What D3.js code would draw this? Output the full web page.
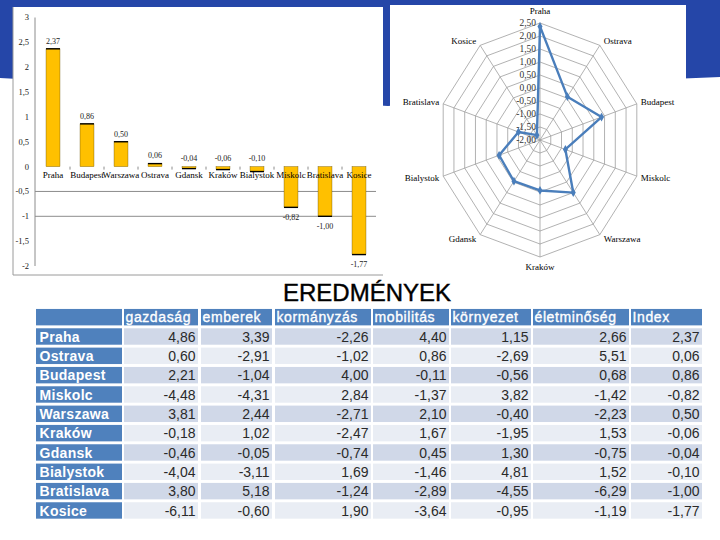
<!DOCTYPE html>
<html><head><meta charset="utf-8">
<script src="https://cdn.jsdelivr.net/npm/d3@7/dist/d3.min.js"></script>
<style>html,body{margin:0;padding:0;background:#fff;}svg{display:block;}</style>
</head><body>
<svg id="c" width="720" height="540"></svg>
<script>
// ---------------- DATA ----------------
const cities = ["Praha","Ostrava","Budapest","Miskolc","Warszawa","Kraków","Gdansk","Bialystok","Bratislava","Kosice"];
const columns = ["gazdaság","emberek","kormányzás","mobilitás","környezet","életminőség","Index"];
const gazdasag    = [4.86, 0.60, 2.21, -4.48, 3.81, -0.18, -0.46, -4.04, 3.80, -6.11];
const emberek     = [3.39, -2.91, -1.04, -4.31, 2.44, 1.02, -0.05, -3.11, 5.18, -0.60];
const kormanyzas  = [-2.26, -1.02, 4.00, 2.84, -2.71, -2.47, -0.74, 1.69, -1.24, 1.90];
const mobilitas   = [4.40, 0.86, -0.11, -1.37, 2.10, 1.67, 0.45, -1.46, -2.89, -3.64];
const kornyezet   = [1.15, -2.69, -0.56, 3.82, -0.40, -1.95, 1.30, 4.81, -4.55, -0.95];
const eletminoseg = [2.66, 5.51, 0.68, -1.42, -2.23, 1.53, -0.75, 1.52, -6.29, -1.19];
const indexValues = [2.37, 0.06, 0.86, -0.82, 0.50, -0.06, -0.04, -0.10, -1.00, -1.77];
const barTicks = [3, 2.5, 2, 1.5, 1, 0.5, 0, -0.5, -1, -1.5, -2];
const barGridValues = [-0.5, -1];
const radarTicks = [2.5, 2, 1.5, 1, 0.5, 0, -0.5, -1, -1.5, -2];
const title = "EREDMÉNYEK";

// ---------------- HELPERS ----------------
const loc = d3.formatLocale({decimal: ",", thousands: " ", grouping: [3], currency: ["", ""], minus: "-"});
const f2 = loc.format(".2f");
const f1 = loc.format(".1~f");
const svg = d3.select("#c");
const serif = "'Liberation Serif','Times New Roman',serif";
const sans = "'Liberation Sans',Arial,sans-serif";

// ---------------- SLIDE BACKGROUND ----------------
svg.append("rect").attr("width", 720).attr("height", 540).attr("fill", "#fff");
svg.append("path")
  .attr("d", "M0,0 L720,0 L720,77 C620,80 480,98 388,106 C260,98 110,84 0,78 Z")
  .attr("fill", "#2546A8");

// ---------------- BAR CHART ----------------
const bx0 = 13, by0 = 7, bx1 = 383, by1 = 275;
svg.append("rect").attr("x", bx0).attr("y", by0).attr("width", bx1 - bx0).attr("height", by1 - by0).attr("fill", "#fff");
svg.append("path").attr("d", `M${bx0},${by0} V${by1} H${bx1}`).attr("fill", "none").attr("stroke", "#9a9a9a").attr("stroke-width", 1);

const barOrder = d3.range(cities.length).sort((a, b) => indexValues[b] - indexValues[a]);
const barCats = barOrder.map(i => cities[i]);
const barVals = barOrder.map(i => indexValues[i]);

const xb = d3.scaleBand().domain(barCats).range([36, 376]).paddingInner(0.59).paddingOuter(0.295);
const yb = d3.scaleLinear().domain([-2, 3]).range([266, 17.5]);

const gb = svg.append("g");
gb.selectAll("line.grid").data(barGridValues).join("line")
  .attr("x1", 35).attr("x2", 376).attr("y1", d => yb(d)).attr("y2", d => yb(d))
  .attr("stroke", "#8c8c8c").attr("stroke-width", 1);
gb.append("line").attr("x1", 35).attr("x2", 35).attr("y1", yb(3)).attr("y2", yb(-2))
  .attr("stroke", "#8c8c8c").attr("stroke-width", 1);
gb.selectAll("text.yt").data(barTicks).join("text")
  .attr("x", 29).attr("y", d => yb(d)).attr("dy", "0.35em")
  .attr("text-anchor", "end").attr("font-family", serif).attr("font-size", 8.5).attr("fill", "#222")
  .text(d => f1(d));
const bounds = barCats.slice(1).map(c => xb(c) - xb.step() * xb.paddingInner() / 2);
gb.selectAll("line.xt").data(bounds).join("line")
  .attr("x1", d => d).attr("x2", d => d).attr("y1", yb(0)).attr("y2", yb(0) + 3)
  .attr("stroke", "#8c8c8c").attr("stroke-width", 1);
gb.selectAll("rect.bar").data(barVals).join("rect")
  .attr("x", (d, i) => xb(barCats[i]))
  .attr("width", xb.bandwidth())
  .attr("y", d => yb(Math.max(0, d)))
  .attr("height", d => Math.max(1, Math.abs(yb(d) - yb(0))))
  .attr("fill", "#FFC000")
  .attr("stroke", "#6b5200").attr("stroke-width", 0.4);
gb.selectAll("line.end").data(barVals).join("line")
  .attr("x1", (d, i) => xb(barCats[i])).attr("x2", (d, i) => xb(barCats[i]) + xb.bandwidth())
  .attr("y1", d => yb(d)).attr("y2", d => yb(d))
  .attr("stroke", "#000").attr("stroke-width", 1.4);
gb.selectAll("text.cat").data(barCats).join("text")
  .attr("x", d => xb(d) + xb.bandwidth() / 2).attr("y", yb(0) + 11.5)
  .attr("text-anchor", "middle").attr("font-family", serif).attr("font-size", 9).attr("fill", "#000")
  .text(d => d);
gb.selectAll("text.val").data(barVals).join("text")
  .attr("x", (d, i) => xb(barCats[i]) + xb.bandwidth() / 2)
  .attr("y", d => d > -0.5 ? Math.min(yb(Math.max(d, 0)), yb(0)) - 8 : yb(d) + 10)
  .attr("dy", "0.35em")
  .attr("text-anchor", "middle").attr("font-family", serif).attr("font-size", 8).attr("fill", "#222")
  .text(d => f2(d));

// ---------------- RADAR CHART ----------------
svg.append("rect").attr("x", 390).attr("y", 5).attr("width", 296).attr("height", 270).attr("fill", "#fff");
const cx = 540, cy = 140, kx = 0.87;
const rr = d3.scaleLinear().domain([-2, 2.5]).range([0, 117]);
const ang = d3.scaleLinear().domain([0, cities.length]).range([0, 2 * Math.PI]);
const pt = (i, v) => [cx + kx * rr(v) * Math.sin(ang(i)), cy - rr(v) * Math.cos(ang(i))];
const gr = svg.append("g");
const ringLine = d3.line().curve(d3.curveLinearClosed);
gr.selectAll("path.ring").data(radarTicks.filter(t => t > -2)).join("path")
  .attr("d", t => ringLine(cities.map((c, i) => pt(i, t))))
  .attr("fill", "none").attr("stroke", "#9e9e9e").attr("stroke-width", 0.8);
gr.selectAll("line.spoke").data(cities).join("line")
  .attr("x1", cx).attr("y1", cy)
  .attr("x2", (c, i) => pt(i, 2.5)[0]).attr("y2", (c, i) => pt(i, 2.5)[1])
  .attr("stroke", "#9e9e9e").attr("stroke-width", 0.8);
gr.selectAll("text.rt").data(radarTicks).join("text")
  .attr("x", cx - 4).attr("y", t => cy - rr(t)).attr("dy", "0.35em")
  .attr("text-anchor", "end").attr("font-family", serif).attr("font-size", 9.5).attr("fill", "#333")
  .text(t => f2(t));
gr.selectAll("text.city").data(cities).join("text")
  .each(function(c, i) {
    const a = ang(i), s = Math.sin(a), co = Math.cos(a);
    const [vx, vy] = pt(i, 2.5);
    let x = vx, y = vy, anchor = "middle";
    if (s > 0.1) { anchor = "start"; x += 4; y -= co * 5; }
    else if (s < -0.1) { anchor = "end"; x -= 4; y -= co * 5; }
    else { y += co > 0 ? -12 : 10; }
    d3.select(this).attr("x", x).attr("y", y).attr("dy", "0.35em").attr("text-anchor", anchor);
  })
  .attr("font-family", serif).attr("font-size", 9).attr("fill", "#000")
  .text(c => c);
gr.append("path")
  .attr("d", ringLine(indexValues.map((v, i) => pt(i, v))))
  .attr("fill", "none").attr("stroke", "#4A7EBB").attr("stroke-width", 2.4).attr("stroke-linejoin", "round");
gr.selectAll("path.mk").data(indexValues).join("path")
  .attr("transform", (v, i) => `translate(${pt(i, v)[0]},${pt(i, v)[1]})`)
  .attr("d", d3.symbol().type(d3.symbolDiamond).size(22))
  .attr("fill", "#4A7EBB");

// ---------------- TITLE ----------------
svg.append("text").attr("x", 367).attr("y", 301).attr("text-anchor", "middle")
  .attr("font-family", sans).attr("font-size", 24).attr("fill", "#000")
  .attr("stroke", "#000").attr("stroke-width", 0.4).text(title);

// ---------------- TABLE ----------------
const colEdges = [[36,122],[124,198],[201,272],[275,371],[373,449],[451,531],[533,629],[631,702]];
const colData = [gazdasag, emberek, kormanyzas, mobilitas, kornyezet, eletminoseg, indexValues];
const rowsY = d3.scaleBand().domain(["__head", ...cities]).range([307.5, 307.5 + 11 * 19.33]).paddingInner(0.15).paddingOuter(0.075);
const bandFill = ["#D0D8E8", "#E9EDF4"];
const gt = svg.append("g");
const headCells = ["", ...columns];
gt.selectAll("rect.h").data(headCells).join("rect")
  .attr("x", (d, j) => colEdges[j][0]).attr("width", (d, j) => colEdges[j][1] - colEdges[j][0])
  .attr("y", rowsY("__head")).attr("height", rowsY.bandwidth()).attr("fill", "#4F81BD");
gt.selectAll("text.h").data(headCells).join("text")
  .attr("x", (d, j) => colEdges[j][0] + 1.5).attr("y", rowsY("__head") + rowsY.bandwidth() / 2 + 5.3)
  .attr("font-family", sans).attr("font-size", 14).attr("letter-spacing", 0.6).attr("fill", "#fff")
  .attr("stroke", "#fff").attr("stroke-width", 0.35)
  .text(d => d);
cities.forEach((c, i) => {
  const y0 = rowsY(c), h = rowsY.bandwidth();
  gt.append("rect").attr("x", colEdges[0][0]).attr("width", colEdges[0][1] - colEdges[0][0])
    .attr("y", y0).attr("height", h).attr("fill", "#4F81BD");
  gt.append("text").attr("x", colEdges[0][0] + 3.5).attr("y", y0 + h / 2 + 5.2)
    .attr("font-family", sans).attr("font-size", 14).attr("font-weight", "bold").attr("letter-spacing", 0.3)
    .attr("fill", "#fff").text(c);
  colData.forEach((arr, j) => {
    const e = colEdges[j + 1];
    gt.append("rect").attr("x", e[0]).attr("width", e[1] - e[0]).attr("y", y0).attr("height", h)
      .attr("fill", bandFill[i % 2]);
    gt.append("text").attr("x", e[1] - 2.5).attr("y", y0 + h / 2 + 5.2).attr("text-anchor", "end")
      .attr("font-family", sans).attr("font-size", 14).attr("fill", "#2a2a2a").text(f2(arr[i]));
  });
});
</script>
</body></html>
